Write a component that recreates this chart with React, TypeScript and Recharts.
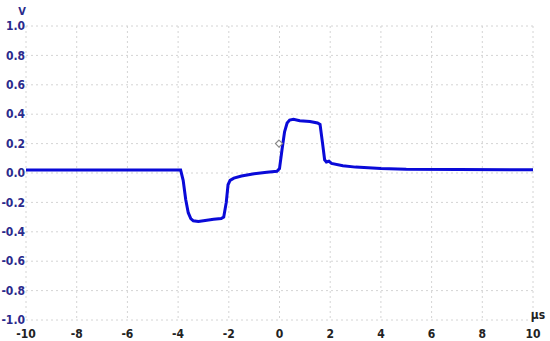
import React from "react";
import {
  ComposedChart,
  Line,
  Scatter,
  XAxis,
  YAxis,
  CartesianGrid,
} from "recharts";

// time in µs, voltage in V
const times = [
  -10, -3.9, -3.8, -3.7, -3.6, -3.5, -3.4, -3.2, -3.0, -2.6, -2.3, -2.2, -2.1,
  -2.03, -1.95, -1.8, -1.5, -1.0, -0.5, -0.1, 0.0, 0.1, 0.2, 0.3, 0.4, 0.55,
  0.8, 1.2, 1.5, 1.6, 1.7, 1.78, 1.85, 1.95, 2.05, 2.5, 3.0, 4.0, 5.0, 10,
];
const volts = [
  0.02, 0.02, -0.05, -0.18, -0.27, -0.31, -0.325, -0.33, -0.325, -0.315,
  -0.31, -0.3, -0.2, -0.08, -0.05, -0.035, -0.02, -0.005, 0.005, 0.012, 0.03,
  0.16, 0.28, 0.34, 0.36, 0.365, 0.355, 0.35, 0.34, 0.33, 0.2, 0.09, 0.075,
  0.08, 0.065, 0.05, 0.04, 0.03, 0.025, 0.022,
];
const markerT = [-0.02];
const markerV = [0.2];

const xTicks = [-10, -8, -6, -4, -2, 0, 2, 4, 6, 8, 10];
const yTicks = [-1, -0.8, -0.6, -0.4, -0.2, 0, 0.2, 0.4, 0.6, 0.8, 1];

const trace = times.map((t, i) => ({ t, v: volts[i] }));
const marker = markerT.map((t, i) => ({ t, v: markerV[i] }));

const font = "'Liberation Sans Narrow', 'DejaVu Sans Condensed', Arial, sans-serif";

const Diamond = (props: any) => {
  const { cx, cy } = props;
  const r = 3.5;
  return (
    <polygon
      points={`${cx},${cy - r} ${cx + r},${cy} ${cx},${cy + r} ${cx - r},${cy}`}
      fill="#ffffff"
      stroke="#888888"
      strokeWidth={1.2}
    />
  );
};

export default function App() {
  return (
    <div style={{ position: "absolute", left: 0, top: 0, width: 550, height: 341, background: "#fff" }}>
      <ComposedChart
        width={550}
        height={341}
        data={trace}
        margin={{ top: 26, right: 17, bottom: 0, left: 0 }}
      >
        <CartesianGrid stroke="#d4d4d4" strokeDasharray="2 3" />
        <XAxis
          dataKey="t"
          type="number"
          domain={[-10, 10]}
          ticks={xTicks}
          height={21}
          axisLine={false}
          tickLine={false}
          tickMargin={3}
          tick={{ fill: "#222222", fontSize: 12, fontWeight: "bold", fontFamily: font }}
          tickFormatter={(v: number) => String(v)}
        />
        <YAxis
          dataKey="v"
          type="number"
          domain={[-1, 1]}
          ticks={yTicks}
          width={26}
          axisLine={false}
          tickLine={false}
          tickSize={0}
          tickMargin={1}
          tick={{ fill: "#2a2a8c", fontSize: 12, fontWeight: "bold", fontFamily: font }}
          tickFormatter={(v: number) => v.toFixed(1)}
        />
        <Line
          dataKey="v"
          type="linear"
          stroke="#0a0ad8"
          strokeWidth={3}
          dot={false}
          isAnimationActive={false}
        />
        <Scatter data={marker} dataKey="v" shape={<Diamond />} isAnimationActive={false} />
        <text x={22} y={15} textAnchor="middle" fill="#2a2a8c" fontSize={11} fontWeight="bold" fontFamily={font}>
          V
        </text>
        <text x={538} y={319} textAnchor="middle" fill="#222222" fontSize={12} fontWeight="bold" fontFamily={font}>
          µs
        </text>
      </ComposedChart>
    </div>
  );
}
